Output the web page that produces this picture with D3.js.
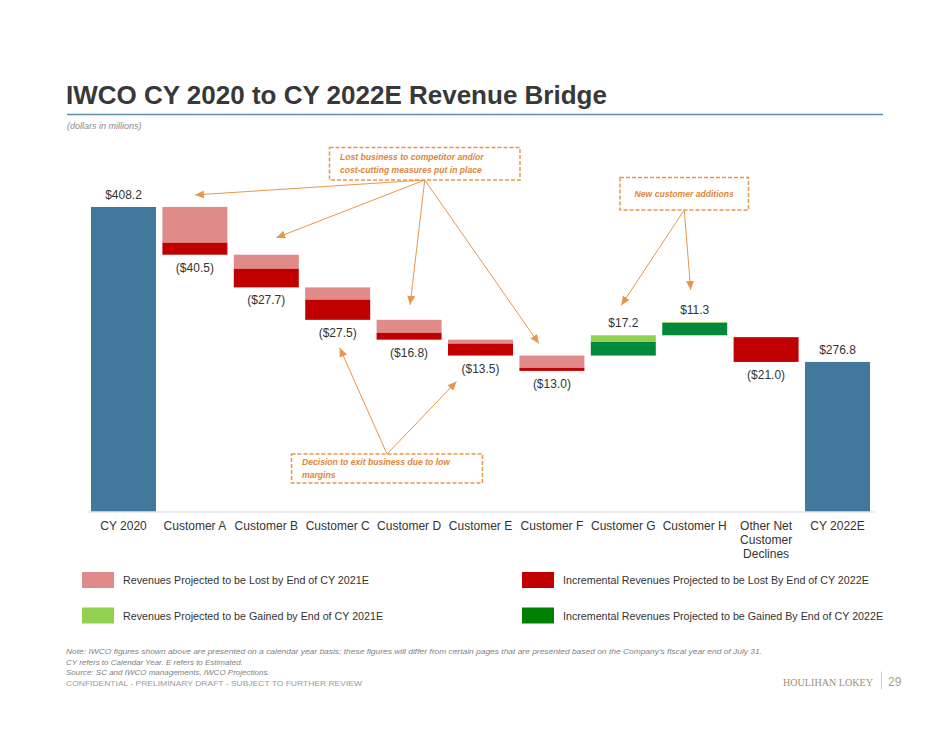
<!DOCTYPE html>
<html>
<head>
<meta charset="utf-8">
<script src="https://cdn.jsdelivr.net/npm/d3@7"></script>
<style>
  body { margin: 0; background: #fff; }
  text { font-family: "Liberation Sans", Arial, sans-serif; }
  text.serif { font-family: "Liberation Serif", "DejaVu Serif", serif; }
</style>
</head>
<body>
<div id="chart"></div>
<script>
// categories (\n = line break in the axis label)
var categories = ['CY 2020', 'Customer A', 'Customer B', 'Customer C', 'Customer D', 'Customer E',
    'Customer F', 'Customer G', 'Customer H', 'Other Net\nCustomer\nDeclines', 'CY 2022E'];

// total bars (null = floating bar)
var totalValue = [408.2, null, null, null, null, null, null, null, null, null, 276.8];

// level each floating bar starts from, as drawn
var startLevel = [null, 408.2, 367.7, 340.0, 312.5, 295.7, 282.2, 282.2, 299.4, 297.8, null];

// change by end of CY 2021E and incremental change by end of CY 2022E
var change2021 = [null, -30.3, -11.9, -10.4, -11.0, -3.4, -10.4, 5.3, 0.6, 0, null];
var change2022 = [null, -10.2, -15.8, -17.1, -5.8, -10.1, -2.6, 11.9, 10.7, -21.0, null];

var legendLabels = [
    'Revenues Projected to be Lost by End of CY 2021E',
    'Incremental Revenues Projected to be Lost By End of CY 2022E',
    'Revenues Projected to be Gained by End of CY 2021E',
    'Incremental Revenues Projected to be Gained By End of CY 2022E'
];

var footNotes = [
    "Note: IWCO figures shown above are presented on a calendar year basis; these figures will differ from certain pages that are presented based on the Company's fiscal year end of July 31.",
    'CY refers to Calendar Year. E refers to Estimated.',
    'Source: SC and IWCO managements, IWCO Projections.'
];

var colors = {
    total: '#41789B',
    lost21: '#E08A8A',
    lost22: '#C00000',
    gain21: '#92D050',
    gain22: '#00893C',
    gain22Legend: '#008000',
    note: '#E0863A',
    noteLine: '#E8964A'
};

var width = 950, height = 734;

var svg = d3.select('#chart')
    .append('svg')
    .attr('width', width)
    .attr('height', height);

svg.append('rect')
    .attr('width', width)
    .attr('height', height)
    .attr('fill', '#fff');

// title
svg.append('text')
    .attr('x', 66)
    .attr('y', 103.5)
    .attr('font-size', 26)
    .attr('font-weight', 'bold')
    .attr('fill', '#383838')
    .text('IWCO CY 2020 to CY 2022E Revenue Bridge');

svg.append('line')
    .attr('x1', 67)
    .attr('x2', 883)
    .attr('y1', 114.5)
    .attr('y2', 114.5)
    .attr('stroke', '#5e8fab')
    .attr('stroke-width', 1.3);

svg.append('text')
    .attr('x', 67)
    .attr('y', 129)
    .attr('font-size', 9)
    .attr('font-style', 'italic')
    .attr('fill', '#8c8c8c')
    .text('(dollars in millions)');

// scales
var x = d3.scaleBand()
    .domain(categories)
    .range([87, 874])
    .paddingInner(0.09)
    .paddingOuter(0.056);

var y = d3.scaleLinear()
    .domain([150, 420])
    .range([511.5, 511.5 - 270 * 1.1795]);

var yBase = y.domain()[0];

// build the drawn segments
var segments = [];
categories.forEach(function (c, i) {
    if (totalValue[i] !== null) {
        segments.push({ cat: c, from: yBase, to: totalValue[i], color: colors.total });
        return;
    }
    var s = startLevel[i];
    var net = change2021[i] + change2022[i];
    if (net < 0) {
        segments.push({ cat: c, from: s, to: s + change2021[i], color: colors.lost21 });
        segments.push({ cat: c, from: s + change2021[i], to: s + net, color: colors.lost22 });
    } else {
        segments.push({ cat: c, from: s, to: s + change2022[i], color: colors.gain22 });
        segments.push({ cat: c, from: s + change2022[i], to: s + net, color: colors.gain21 });
    }
});

svg.append('g')
    .selectAll('rect')
    .data(segments.filter(function (d) { return d.from !== d.to; }))
    .join('rect')
    .attr('x', function (d) { return x(d.cat); })
    .attr('y', function (d) { return y(Math.max(d.from, d.to)); })
    .attr('width', x.bandwidth())
    .attr('height', function (d) { return Math.abs(y(d.from) - y(d.to)); })
    .attr('fill', function (d) { return d.color; });

// x axis
var axis = svg.append('g')
    .attr('transform', 'translate(0,' + y(yBase) + ')')
    .call(d3.axisBottom(x).tickSize(0).tickPadding(9.5));

axis.select('.domain').attr('stroke', '#d9d9d9');
axis.selectAll('.tick text')
    .attr('font-size', 12)
    .attr('fill', '#333')
    .each(function (d) {
        var lines = d.split('\n');
        var t = d3.select(this).text(null);
        lines.forEach(function (l, k) {
            t.append('tspan')
                .attr('x', 0)
                .attr('dy', k === 0 ? '0.71em' : 14)
                .text(l);
        });
    });

// value labels
var fmt = d3.format('.1f');
var labels = categories.map(function (c, i) {
    if (totalValue[i] !== null) {
        return { cat: c, v: totalValue[i], top: totalValue[i], bottom: yBase };
    }
    var net = change2021[i] + change2022[i];
    return { cat: c, v: net, top: Math.max(startLevel[i], startLevel[i] + net), bottom: Math.min(startLevel[i], startLevel[i] + net) };
});

svg.append('g')
    .selectAll('text')
    .data(labels)
    .join('text')
    .attr('x', function (d) { return x(d.cat) + x.bandwidth() / 2; })
    .attr('y', function (d) { return d.v < 0 ? y(d.bottom) + 17 : y(d.top) - 8; })
    .attr('text-anchor', 'middle')
    .attr('font-size', 12)
    .attr('fill', '#333')
    .text(function (d) { return d.v < 0 ? '($' + fmt(-d.v) + ')' : '$' + fmt(d.v); });

// annotation arrows
svg.append('defs')
    .append('marker')
    .attr('id', 'head')
    .attr('markerUnits', 'userSpaceOnUse')
    .attr('markerWidth', 9)
    .attr('markerHeight', 8)
    .attr('refX', 9)
    .attr('refY', 4)
    .attr('orient', 'auto')
    .append('path')
    .attr('d', 'M0,0 L9,4 L0,8 Z')
    .attr('fill', colors.noteLine);

var notes = [
    { x: 329.5, y: 147.5, w: 190.5, h: 32.5, anchor: 'bottom',
      lines: ['Lost business to competitor and/or', 'cost-cutting measures put in place'],
      targets: [
          { cat: 'Customer A', dx: 0, edge: 'top', dy: -12 },
          { cat: 'Customer B', dx: 10, edge: 'top', dy: -17 },
          { cat: 'Customer D', dx: 1, edge: 'top', dy: -15 },
          { cat: 'Customer F', dx: -13, edge: 'top', dy: -12 }
      ] },
    { x: 620, y: 177.5, w: 128.5, h: 32.5, anchor: 'bottom', center: true,
      lines: ['New customer additions'],
      targets: [
          { cat: 'Customer G', dx: -2, edge: 'top', dy: -30 },
          { cat: 'Customer H', dx: -4, edge: 'top', dy: -32 }
      ] },
    { x: 291.5, y: 454, w: 191, h: 29, anchor: 'top',
      lines: ['Decision to exit business due to low', 'margins'],
      targets: [
          { cat: 'Customer C', dx: 2, edge: 'bottom', dy: 28 },
          { cat: 'Customer E', dx: -24, edge: 'bottom', dy: 26 }
      ] }
];

var labelByCat = {};
labels.forEach(function (d) { labelByCat[d.cat] = d; });

notes.forEach(function (n) {
    var ox = n.x + n.w / 2;
    var oy = n.anchor === 'bottom' ? n.y + n.h : n.y;

    n.targets.forEach(function (t) {
        var b = labelByCat[t.cat];
        svg.append('line')
            .attr('x1', ox)
            .attr('y1', oy)
            .attr('x2', x(t.cat) + x.bandwidth() / 2 + t.dx)
            .attr('y2', (t.edge === 'top' ? y(b.top) : y(b.bottom)) + t.dy)
            .attr('stroke', colors.noteLine)
            .attr('stroke-width', 1)
            .attr('marker-end', 'url(#head)');
    });

    svg.append('rect')
        .attr('x', n.x)
        .attr('y', n.y)
        .attr('width', n.w)
        .attr('height', n.h)
        .attr('fill', '#fff')
        .attr('stroke', colors.noteLine)
        .attr('stroke-width', 1.5)
        .attr('stroke-dasharray', '4,2');

    var firstY = n.y + n.h / 2 - (n.lines.length - 1) * 6.3 + 3;
    n.lines.forEach(function (l, k) {
        svg.append('text')
            .attr('x', n.center ? ox : n.x + 10.5)
            .attr('y', firstY + k * 12.6)
            .attr('text-anchor', n.center ? 'middle' : 'start')
            .attr('font-size', 8.6)
            .attr('font-weight', 'bold')
            .attr('font-style', 'italic')
            .attr('fill', colors.note)
            .text(l);
    });
});

// legend
var legendColors = [colors.lost21, colors.lost22, colors.gain21, colors.gain22Legend];
var legend = svg.append('g')
    .selectAll('g')
    .data(legendLabels)
    .join('g')
    .attr('transform', function (d, i) {
        return 'translate(' + (i % 2 === 0 ? 82 : 522) + ',' + (i < 2 ? 572 : 607.5) + ')';
    });

legend.append('rect')
    .attr('width', 32)
    .attr('height', 16)
    .attr('fill', function (d, i) { return legendColors[i]; });

legend.append('text')
    .attr('x', 41)
    .attr('y', 12)
    .attr('font-size', 10.7)
    .attr('fill', '#333')
    .text(function (d) { return d; });

// footnotes
svg.append('g')
    .selectAll('text')
    .data(footNotes)
    .join('text')
    .attr('x', 66)
    .attr('y', function (d, i) { return 654 + i * 10.7; })
    .attr('font-size', 8)
    .attr('font-style', 'italic')
    .attr('fill', '#7f7f7f')
    .each(function (d, i) {
        if (i === 0) {
            d3.select(this)
                .attr('textLength', 696)
                .attr('lengthAdjust', 'spacingAndGlyphs');
        }
    })
    .text(function (d) { return d; });

svg.append('text')
    .attr('x', 66)
    .attr('y', 686)
    .attr('font-size', 8)
    .attr('fill', '#9a9a9a')
    .attr('textLength', 296)
    .attr('lengthAdjust', 'spacingAndGlyphs')
    .text('CONFIDENTIAL - PRELIMINARY DRAFT - SUBJECT TO FURTHER REVIEW');

// logo
svg.append('text')
    .attr('class', 'serif')
    .attr('x', 783)
    .attr('y', 685.5)
    .attr('font-size', 10.5)
    .attr('fill', '#9b8f78')
    .attr('textLength', 90)
    .attr('lengthAdjust', 'spacingAndGlyphs')
    .text('HOULIHAN LOKEY');

svg.append('line')
    .attr('x1', 881.5)
    .attr('x2', 881.5)
    .attr('y1', 671.5)
    .attr('y2', 689.5)
    .attr('stroke', '#cfcfcf')
    .attr('stroke-width', 1);

svg.append('text')
    .attr('x', 888)
    .attr('y', 686)
    .attr('font-size', 12)
    .attr('fill', '#a99f8a')
    .text('29');
</script>
</body>
</html>
